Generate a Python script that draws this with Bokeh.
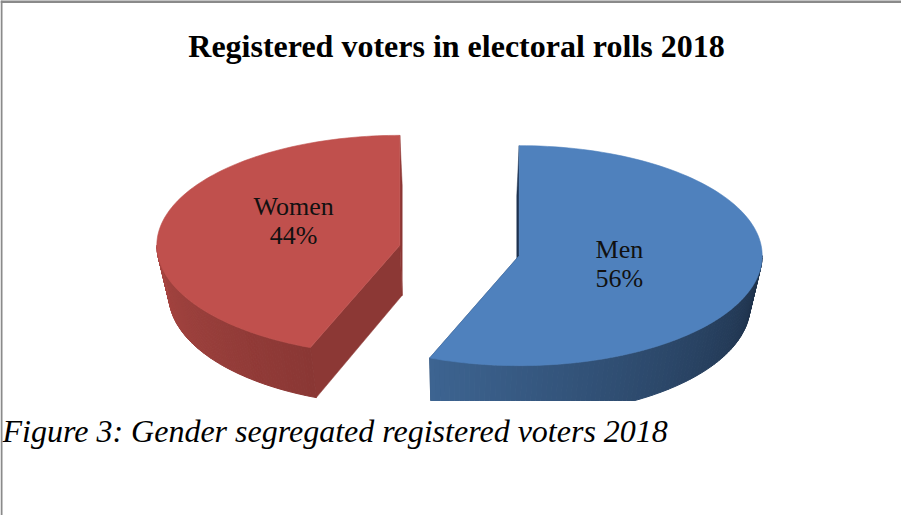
import math
from bokeh.plotting import figure
from bokeh.models import Range1d
from bokeh.core.properties import value
from bokeh.embed import file_html
from bokeh.resources import INLINE

# ---- data ----
categories = ["Men", "Women"]          # clockwise from 12 o'clock
shares = [56, 44]                       # percent
top_colors = ["#4F81BD", "#C0504D"]
side_light = ["#3D6491", "#A64541"]
side_dark = ["#1C2E46", "#8A3734"]
face_colors = ["#1F3350", "#8C3835"]
title_text = "Registered voters in electoral  rolls 2018"
caption_text = "Figure 3: Gender segregated registered voters 2018"

# ---- layout constants (page pixels) ----
W, H = 901, 515
CX, CY = 467, 258        # pie centre
RX, RY = 243, 110        # ellipse radii of top face
DEPTH = 50               # pie thickness
PERSP = 0.04             # bottom edge converges toward centre
EXPLODE = 0.25           # fraction of radius
CLIP_Y = 408             # chart image is cut off here
LABEL_R = 0.42
LABEL_DX = [0, -6]
LABEL_DY = [0, -16]

p = figure(width=W, height=H, output_backend="svg", toolbar_location=None,
           x_range=Range1d(8, 8 + W), y_range=Range1d(8 + H, 8),
           x_axis_location=None, y_axis_location=None, min_border=0,
           outline_line_color=None, background_fill_color="white",
           border_fill_color="white")
p.grid.visible = False


def pt(cx, cy, th_deg):
    t = math.radians(th_deg)
    return cx + RX * math.sin(t), cy - RY * math.cos(t)


def low(x, y):
    return x - PERSP * (x - CX), y + DEPTH


def clip(xs, ys, ymax=CLIP_Y):
    ox, oy = [], []
    n = len(xs)
    for i in range(n):
        x1, y1 = xs[i], ys[i]
        x2, y2 = xs[(i + 1) % n], ys[(i + 1) % n]
        in1, in2 = y1 <= ymax, y2 <= ymax
        if in1:
            ox.append(x1); oy.append(y1)
        if in1 != in2:
            t = (ymax - y1) / (y2 - y1)
            ox.append(x1 + t * (x2 - x1)); oy.append(ymax)
    return ox, oy


def mix(c1, c2, f):
    a = [int(c1[i:i + 2], 16) for i in (1, 3, 5)]
    b = [int(c2[i:i + 2], 16) for i in (1, 3, 5)]
    return "#%02x%02x%02x" % tuple(int(round(a[k] + (b[k] - a[k]) * f)) for k in range(3))


total = float(sum(shares))
start = 0.0
wedges = []
for s in shares:
    span = 360.0 * s / total
    wedges.append((start, start + span))
    start += span

face_xs, face_ys, face_cols = [], [], []
side_xs, side_ys, side_cols = [], [], []
top_xs, top_ys = [], []
lab_x, lab_y, lab_t = [], [], []

for i, (a0, a1) in enumerate(wedges):
    mid = (a0 + a1) / 2
    mt = math.radians(mid)
    cx = CX + EXPLODE * RX * math.sin(mt)
    cy = CY - EXPLODE * RY * math.cos(mt)

    # radial cut faces (hidden parts get covered by the top face)
    for ang in (a0, a1):
        rx_, ry_ = pt(cx, cy, ang)
        bx1, by1 = low(rx_, ry_)
        bx0, by0 = low(cx, cy)
        xs, ys = clip([cx, rx_, bx1, bx0], [cy, ry_, by1, by0])
        if xs:
            face_xs.append(xs); face_ys.append(ys); face_cols.append(face_colors[i])

    # curved front side
    lo, hi = max(a0, 90.0), min(a1, 270.0)
    if hi > lo:
        n = 90
        for k in range(n):
            t0 = lo + (hi - lo) * k / n
            t1 = lo + (hi - lo) * (k + 1) / n
            x0, y0 = pt(cx, cy, t0)
            x1, y1 = pt(cx, cy, t1)
            lx0, ly0 = low(x0, y0)
            lx1, ly1 = low(x1, y1)
            xs, ys = clip([x0, x1, lx1, lx0], [y0, y1, ly1, ly0])
            if xs:
                tm = (t0 + t1) / 2
                if i == 0:
                    f = (tm - lo) / (hi - lo)      # dark at right, light at left end
                    col = mix(side_dark[i], side_light[i], f)
                else:
                    f = (hi - tm) / (hi - lo)      # light at left, dark toward cut
                    col = mix(side_light[i], side_dark[i], f)
                side_xs.append(xs); side_ys.append(ys); side_cols.append(col)

    # top face
    n = 120
    xs, ys = [cx], [cy]
    for k in range(n + 1):
        x, y = pt(cx, cy, a0 + (a1 - a0) * k / n)
        xs.append(x); ys.append(y)
    top_xs.append(xs); top_ys.append(ys)

    lx = cx + LABEL_R * RX * math.sin(mt) + LABEL_DX[i]
    ly = cy - LABEL_R * RY * math.cos(mt) + LABEL_DY[i]
    lab_x.append(lx); lab_y.append(ly)
    lab_t.append("%s\n%d%%" % (categories[i], shares[i]))

p.patches(face_xs, face_ys, fill_color=face_cols, line_color=face_cols, line_width=0.5)
p.patches(side_xs, side_ys, fill_color=side_cols, line_color=side_cols, line_width=1.0)
p.patches(top_xs, top_ys, fill_color=top_colors, line_color=top_colors, line_width=0.6)

p.text(lab_x, lab_y, text=lab_t, text_align="center", text_baseline="middle",
       text_font=value("Liberation Serif"), text_font_size="26px",
       text_color="#111111", text_line_height=1.0)

p.text([468], [53], text=[title_text], text_align="center", text_baseline="alphabetic",
       text_font=value("Liberation Serif"), text_font_style="bold",
       text_font_size="32px", text_color="#000000")

p.text([10], [438], text=[caption_text], text_align="left", text_baseline="alphabetic",
       text_font=value("Liberation Serif"), text_font_style="italic",
       text_font_size="32px", text_color="#000000")

# frame lines of the original picture
p.segment(x0=[8], y0=[9], x1=[8 + W], y1=[9], line_color="#8A8A8A", line_width=3)
p.segment(x0=[9], y0=[8], x1=[9], y1=[8 + H], line_color="#8A8A8A", line_width=2)

open("out.html", "w").write(file_html(p, INLINE))
